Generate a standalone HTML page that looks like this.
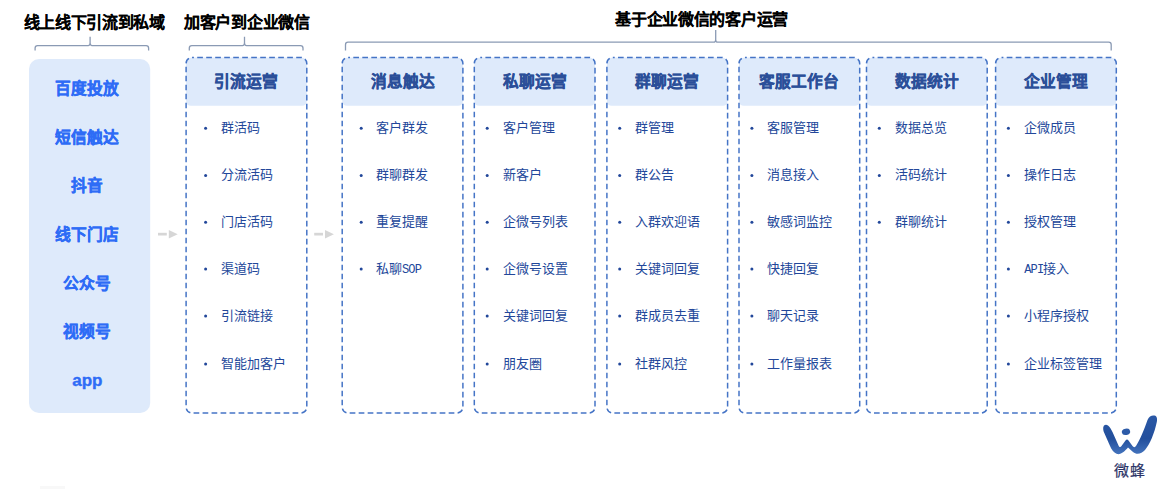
<!DOCTYPE html>
<html lang="zh-CN">
<head>
<meta charset="utf-8">
<style>
*{margin:0;padding:0;box-sizing:border-box;}
html,body{width:1162px;height:489px;overflow:hidden;background:#fff;}
body{position:relative;font-family:"Liberation Sans",sans-serif;}
svg.bg{position:absolute;left:0;top:0;}
.t{-webkit-text-stroke:0.05px currentColor;position:absolute;font-weight:bold;font-size:16px;letter-spacing:-0.3px;color:#000;white-space:nowrap;line-height:20px;height:20px;}
.lb{-webkit-text-stroke:0.35px currentColor;position:absolute;width:120px;text-align:center;font-weight:bold;font-size:15.7px;color:#2e6cf6;line-height:20px;height:20px;white-space:nowrap;}
.hd{-webkit-text-stroke:0.35px currentColor;position:absolute;width:120.7px;text-align:center;font-weight:bold;font-size:15.7px;color:#2b4f99;line-height:20px;height:20px;white-space:nowrap;}
.m{font-family:"Liberation Mono",monospace;font-size:12px;letter-spacing:-0.8px;}
.it{position:absolute;font-size:13px;color:#22479a;line-height:16px;height:16px;white-space:nowrap;}
</style>
</head>
<body>
<svg class="bg" width="1162" height="489" viewBox="0 0 1162 489">

<rect x="29" y="59" width="121.2" height="354" rx="10" fill="#deeafb"/>
<path d="M35.1 50.5 V48.1 Q35.1 45.6 37.6 45.6 H88.1 Q90.1 45.6 90.1 43.1 V36.7 M90.1 43.1 Q90.1 45.6 92.1 45.6 H146.1 Q148.6 45.6 148.6 48.1 V50.5" fill="none" stroke="#8a9ab4" stroke-width="1.3"/>
<path d="M189.3 50.5 V48.1 Q189.3 45.6 191.8 45.6 H242.5 Q244.5 45.6 244.5 43.1 V36.7 M244.5 43.1 Q244.5 45.6 246.5 45.6 H300.5 Q303 45.6 303 48.1 V50.5" fill="none" stroke="#8a9ab4" stroke-width="1.3"/>
<path d="M345.5 50.5 V44.7 Q345.5 42.2 348.0 42.2 H713.7 Q715.7 42.2 715.7 39.7 V30.1 M715.7 39.7 Q715.7 42.2 717.7 42.2 H1108.7 Q1111.2 42.2 1111.2 44.7 V50.5" fill="none" stroke="#8a9ab4" stroke-width="1.3"/>
<rect x="158" y="232.8" width="8.8" height="2.7" fill="#d6d6d6"/>
<path d="M168.8 229.9 L177.7 234.2 L168.8 238.4 Z" fill="#d6d6d6"/>
<rect x="314.2" y="232.8" width="8.8" height="2.7" fill="#d6d6d6"/>
<path d="M325.0 229.9 L333.9 234.2 L325.0 238.4 Z" fill="#d6d6d6"/>
<path d="M192.1 57.5 H300.8 Q306.8 57.5 306.8 63.5 V100.8 Q306.8 105.8 301.8 105.8 H191.1 Q186.1 105.8 186.1 100.8 V63.5 Q186.1 57.5 192.1 57.5 Z" fill="#deeafb"/>
<rect x="186.1" y="57.5" width="120.7" height="355.5" rx="6" fill="none" stroke="#4574c6" stroke-width="1.5" stroke-dasharray="5.7 3.3" stroke-dashoffset="3.9"/>
<circle cx="205.6" cy="128.3" r="1.5" fill="#22479a"/>
<circle cx="205.6" cy="175.4" r="1.5" fill="#22479a"/>
<circle cx="205.6" cy="222.2" r="1.5" fill="#22479a"/>
<circle cx="205.6" cy="269.1" r="1.5" fill="#22479a"/>
<circle cx="205.6" cy="316.1" r="1.5" fill="#22479a"/>
<circle cx="205.6" cy="364.0" r="1.5" fill="#22479a"/>
<path d="M348.2 57.5 H456.9 Q462.9 57.5 462.9 63.5 V100.8 Q462.9 105.8 457.9 105.8 H347.2 Q342.2 105.8 342.2 100.8 V63.5 Q342.2 57.5 348.2 57.5 Z" fill="#deeafb"/>
<rect x="342.2" y="57.5" width="120.7" height="355.5" rx="6" fill="none" stroke="#4574c6" stroke-width="1.5" stroke-dasharray="5.7 3.3" stroke-dashoffset="3.9"/>
<circle cx="361.2" cy="128.3" r="1.5" fill="#22479a"/>
<circle cx="361.2" cy="175.4" r="1.5" fill="#22479a"/>
<circle cx="361.2" cy="222.2" r="1.5" fill="#22479a"/>
<circle cx="361.2" cy="269.1" r="1.5" fill="#22479a"/>
<path d="M480.3 57.5 H589.0 Q595.0 57.5 595.0 63.5 V100.8 Q595.0 105.8 590.0 105.8 H479.3 Q474.3 105.8 474.3 100.8 V63.5 Q474.3 57.5 480.3 57.5 Z" fill="#deeafb"/>
<rect x="474.3" y="57.5" width="120.7" height="355.5" rx="6" fill="none" stroke="#4574c6" stroke-width="1.5" stroke-dasharray="5.7 3.3" stroke-dashoffset="3.9"/>
<circle cx="487.2" cy="128.3" r="1.5" fill="#22479a"/>
<circle cx="487.2" cy="175.4" r="1.5" fill="#22479a"/>
<circle cx="487.2" cy="222.2" r="1.5" fill="#22479a"/>
<circle cx="487.2" cy="269.1" r="1.5" fill="#22479a"/>
<circle cx="487.2" cy="316.1" r="1.5" fill="#22479a"/>
<circle cx="487.2" cy="364.0" r="1.5" fill="#22479a"/>
<path d="M612.9 57.5 H721.6 Q727.6 57.5 727.6 63.5 V100.8 Q727.6 105.8 722.6 105.8 H611.9 Q606.9 105.8 606.9 100.8 V63.5 Q606.9 57.5 612.9 57.5 Z" fill="#deeafb"/>
<rect x="606.9" y="57.5" width="120.7" height="355.5" rx="6" fill="none" stroke="#4574c6" stroke-width="1.5" stroke-dasharray="5.7 3.3" stroke-dashoffset="3.9"/>
<circle cx="619.6999999999999" cy="128.3" r="1.5" fill="#22479a"/>
<circle cx="619.6999999999999" cy="175.4" r="1.5" fill="#22479a"/>
<circle cx="619.6999999999999" cy="222.2" r="1.5" fill="#22479a"/>
<circle cx="619.6999999999999" cy="269.1" r="1.5" fill="#22479a"/>
<circle cx="619.6999999999999" cy="316.1" r="1.5" fill="#22479a"/>
<circle cx="619.6999999999999" cy="364.0" r="1.5" fill="#22479a"/>
<path d="M745.0 57.5 H853.7 Q859.7 57.5 859.7 63.5 V100.8 Q859.7 105.8 854.7 105.8 H744.0 Q739.0 105.8 739.0 100.8 V63.5 Q739.0 57.5 745.0 57.5 Z" fill="#deeafb"/>
<rect x="739.0" y="57.5" width="120.7" height="355.5" rx="6" fill="none" stroke="#4574c6" stroke-width="1.5" stroke-dasharray="5.7 3.3" stroke-dashoffset="3.9"/>
<circle cx="751.9" cy="128.3" r="1.5" fill="#22479a"/>
<circle cx="751.9" cy="175.4" r="1.5" fill="#22479a"/>
<circle cx="751.9" cy="222.2" r="1.5" fill="#22479a"/>
<circle cx="751.9" cy="269.1" r="1.5" fill="#22479a"/>
<circle cx="751.9" cy="316.1" r="1.5" fill="#22479a"/>
<circle cx="751.9" cy="364.0" r="1.5" fill="#22479a"/>
<path d="M872.5 57.5 H981.2 Q987.2 57.5 987.2 63.5 V100.8 Q987.2 105.8 982.2 105.8 H871.5 Q866.5 105.8 866.5 100.8 V63.5 Q866.5 57.5 872.5 57.5 Z" fill="#deeafb"/>
<rect x="866.5" y="57.5" width="120.7" height="355.5" rx="6" fill="none" stroke="#4574c6" stroke-width="1.5" stroke-dasharray="5.7 3.3" stroke-dashoffset="3.9"/>
<circle cx="879.3" cy="128.3" r="1.5" fill="#22479a"/>
<circle cx="879.3" cy="175.4" r="1.5" fill="#22479a"/>
<circle cx="879.3" cy="222.2" r="1.5" fill="#22479a"/>
<path d="M1001.6 57.5 H1110.3 Q1116.3 57.5 1116.3 63.5 V100.8 Q1116.3 105.8 1111.3 105.8 H1000.6 Q995.6 105.8 995.6 100.8 V63.5 Q995.6 57.5 1001.6 57.5 Z" fill="#deeafb"/>
<rect x="995.6" y="57.5" width="120.7" height="355.5" rx="6" fill="none" stroke="#4574c6" stroke-width="1.5" stroke-dasharray="5.7 3.3" stroke-dashoffset="3.9"/>
<circle cx="1008.4" cy="128.3" r="1.5" fill="#22479a"/>
<circle cx="1008.4" cy="175.4" r="1.5" fill="#22479a"/>
<circle cx="1008.4" cy="222.2" r="1.5" fill="#22479a"/>
<circle cx="1008.4" cy="269.1" r="1.5" fill="#22479a"/>
<circle cx="1008.4" cy="316.1" r="1.5" fill="#22479a"/>
<circle cx="1008.4" cy="364.0" r="1.5" fill="#22479a"/>

<g id="logo">
<defs><linearGradient id="lg" x1="0" y1="0" x2="0" y2="1"><stop offset="0" stop-color="#2a58a6"/><stop offset="0.6" stop-color="#234f9c"/><stop offset="1" stop-color="#4373bd"/></linearGradient></defs>
<path d="M1103.2 429 C1102.8 425.5 1105.5 423.8 1108 425.5 C1110 427 1111 429 1112.5 432 L1118.5 445.5 C1119.5 447.5 1120.5 447.5 1121.5 446 L1125.5 440.5 C1126.5 439 1127.5 439 1128.5 440.5 L1132.5 446 C1133.5 447.5 1135 447.5 1136 446 C1140 440 1144 430 1147.5 420 C1149 416 1152 415 1154.5 415.5 C1157 416 1157.5 419 1156.8 422 C1154.5 433 1150 444 1145 450 C1141.5 454 1136.5 455 1133 452 L1128 447.5 C1125 451 1121 455 1117 454 C1114 453 1111.5 449.5 1109.8 445.5 L1104.3 433 C1103.6 431.5 1103.3 430.5 1103.2 429 Z" fill="url(#lg)"/>
<ellipse cx="1126" cy="431.8" rx="4.2" ry="3.2" transform="rotate(-12 1126 431.8)" fill="#2d5ba8"/>
</g>
</svg>

<div class="t" style="left:23.5px;top:13.3px;">线上线下引流到私域</div>
<div class="t" style="left:184px;top:13.3px;">加客户到企业微信</div>
<div class="t" style="left:615.3px;top:9.8px;">基于企业微信的客户运营</div>
<div class="lb" style="left:27.3px;top:78.5px;">百度投放</div>
<div class="lb" style="left:27.3px;top:128.0px;">短信触达</div>
<div class="lb" style="left:27.3px;top:175.7px;">抖音</div>
<div class="lb" style="left:27.3px;top:224.8px;">线下门店</div>
<div class="lb" style="left:27.3px;top:274.0px;">公众号</div>
<div class="lb" style="left:27.3px;top:321.7px;">视频号</div>
<div class="lb" style="left:27.3px;top:371.4px;font-size:17px;">app</div>
<div class="hd" style="left:186.1px;top:72.2px;">引流运营</div>
<div class="it" style="left:221.3px;top:120.3px;">群活码</div>
<div class="it" style="left:221.3px;top:167.4px;">分流活码</div>
<div class="it" style="left:221.3px;top:214.2px;">门店活码</div>
<div class="it" style="left:221.3px;top:261.1px;">渠道码</div>
<div class="it" style="left:221.3px;top:308.1px;">引流链接</div>
<div class="it" style="left:221.3px;top:356.0px;">智能加客户</div>
<div class="hd" style="left:342.2px;top:72.2px;">消息触达</div>
<div class="it" style="left:375.9px;top:120.3px;">客户群发</div>
<div class="it" style="left:375.9px;top:167.4px;">群聊群发</div>
<div class="it" style="left:375.9px;top:214.2px;">重复提醒</div>
<div class="it" style="left:375.9px;top:261.1px;">私聊<span class=m>SOP</span></div>
<div class="hd" style="left:474.3px;top:72.2px;">私聊运营</div>
<div class="it" style="left:502.7px;top:120.3px;">客户管理</div>
<div class="it" style="left:502.7px;top:167.4px;">新客户</div>
<div class="it" style="left:502.7px;top:214.2px;">企微号列表</div>
<div class="it" style="left:502.7px;top:261.1px;">企微号设置</div>
<div class="it" style="left:502.7px;top:308.1px;">关键词回复</div>
<div class="it" style="left:502.7px;top:356.0px;">朋友圈</div>
<div class="hd" style="left:606.9px;top:72.2px;">群聊运营</div>
<div class="it" style="left:635.3px;top:120.3px;">群管理</div>
<div class="it" style="left:635.3px;top:167.4px;">群公告</div>
<div class="it" style="left:635.3px;top:214.2px;">入群欢迎语</div>
<div class="it" style="left:635.3px;top:261.1px;">关键词回复</div>
<div class="it" style="left:635.3px;top:308.1px;">群成员去重</div>
<div class="it" style="left:635.3px;top:356.0px;">社群风控</div>
<div class="hd" style="left:739.0px;top:72.2px;">客服工作台</div>
<div class="it" style="left:767.4px;top:120.3px;">客服管理</div>
<div class="it" style="left:767.4px;top:167.4px;">消息接入</div>
<div class="it" style="left:767.4px;top:214.2px;">敏感词监控</div>
<div class="it" style="left:767.4px;top:261.1px;">快捷回复</div>
<div class="it" style="left:767.4px;top:308.1px;">聊天记录</div>
<div class="it" style="left:767.4px;top:356.0px;">工作量报表</div>
<div class="hd" style="left:866.5px;top:72.2px;">数据统计</div>
<div class="it" style="left:895.1px;top:120.3px;">数据总览</div>
<div class="it" style="left:895.1px;top:167.4px;">活码统计</div>
<div class="it" style="left:895.1px;top:214.2px;">群聊统计</div>
<div class="hd" style="left:995.6px;top:72.2px;">企业管理</div>
<div class="it" style="left:1024.2px;top:120.3px;">企微成员</div>
<div class="it" style="left:1024.2px;top:167.4px;">操作日志</div>
<div class="it" style="left:1024.2px;top:214.2px;">授权管理</div>
<div class="it" style="left:1024.2px;top:261.1px;"><span class=m>API</span>接入</div>
<div class="it" style="left:1024.2px;top:308.1px;">小程序授权</div>
<div class="it" style="left:1024.2px;top:356.0px;">企业标签管理</div>
<div style="position:absolute;left:1114px;top:462px;font-size:15px;letter-spacing:1px;line-height:18px;color:#2b3366;-webkit-text-stroke:0.2px currentColor;white-space:nowrap;">微蜂</div>
<div style="position:absolute;left:40px;top:486px;width:25px;height:3px;background:#f8f8f8;"></div>
</body>
</html>
